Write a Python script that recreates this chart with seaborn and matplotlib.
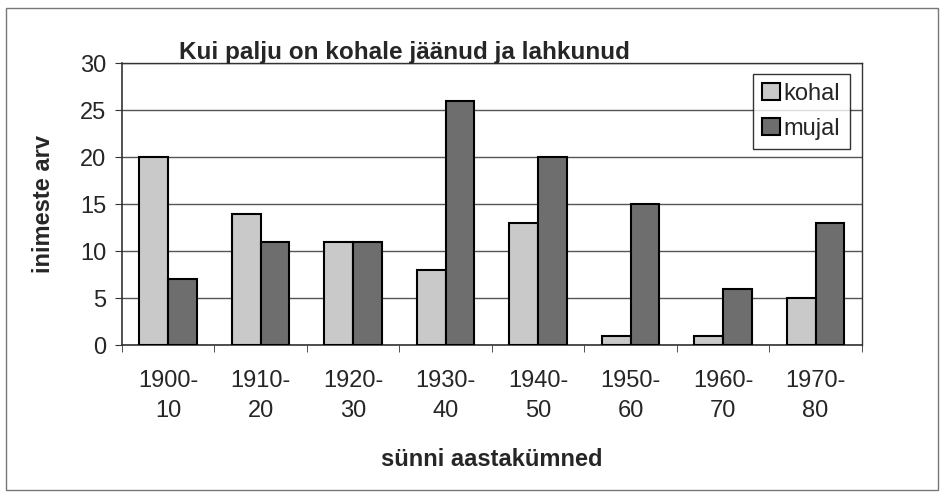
import matplotlib
matplotlib.use("Agg")
import matplotlib.pyplot as plt
import seaborn as sns
import pandas as pd
import numpy as np
from matplotlib.patches import Rectangle

categories = ["1900-\n10", "1910-\n20", "1920-\n30", "1930-\n40", "1940-\n50", "1950-\n60", "1960-\n70", "1970-\n80"]
kohal = [20, 14, 11, 8, 13, 1, 1, 5]
mujal = [7, 11, 11, 26, 20, 15, 6, 13]
series_names = ["kohal", "mujal"]
colors = ["#c9c9c9", "#6e6e6e"]

df = pd.DataFrame({
    "cat": categories * 2,
    "val": kohal + mujal,
    "series": [series_names[0]] * len(categories) + [series_names[1]] * len(categories),
})

sns.set_style("white")
plt.rcParams["font.family"] = ["Liberation Sans", "DejaVu Sans"]

fig = plt.figure(figsize=(9.44, 4.98), dpi=100)
ax = fig.add_axes([0.129, 0.307, 0.784, 0.566])

sns.barplot(data=df, x="cat", y="val", hue="series", palette=colors,
            edgecolor="black", linewidth=1.5, width=0.62, ax=ax, zorder=3,
            legend=True)

ax.set_ylim(0, 30)
ax.set_xlim(-0.5, len(categories) - 0.5)
ax.set_yticks(range(0, 31, 5))
ax.yaxis.grid(True, color="#555555", linewidth=1.0, zorder=0)
ax.set_axisbelow(True)
for s in ax.spines.values():
    s.set_visible(True)
    s.set_color("#333333")
    s.set_linewidth(1.0)
ax.spines["left"].set_linewidth(1.2)
ax.spines["bottom"].set_linewidth(1.2)

ax.tick_params(axis="y", labelsize=17, length=5, direction="out", left=True, pad=6, color="#333333")
ax.tick_params(axis="x", labelsize=17, length=0, pad=18)
ax.set_xticks(np.arange(-0.5, len(categories), 1.0), minor=True)
ax.tick_params(axis="x", which="minor", length=5, direction="out", bottom=True, color="#333333")
for lab in ax.get_xticklabels():
    lab.set_linespacing(1.45)

ax.set_xlabel("sünni aastakümned", fontsize=17, fontweight="bold", labelpad=19)
ax.set_ylabel("inimeste arv", fontsize=17, fontweight="bold", labelpad=18)

fig.text(0.19, 0.872, "Kui palju on kohale jäänud ja lahkunud", fontsize=17.5,
         fontweight="bold", ha="left", va="bottom")

leg = ax.legend(loc="upper right", bbox_to_anchor=(0.99, 0.98), fontsize=17,
                frameon=True, fancybox=False, edgecolor="black",
                handlelength=0.75, handleheight=0.75, handletextpad=0.15,
                borderpad=0.4, labelspacing=0.55, borderaxespad=0.2)
leg.get_frame().set_linewidth(1.0)

fig.add_artist(Rectangle((0.006, 0.016), 0.988, 0.968, transform=fig.transFigure,
                         fill=False, edgecolor="#777777", linewidth=1.0))

fig.savefig("out.png", dpi=100, facecolor="white")
